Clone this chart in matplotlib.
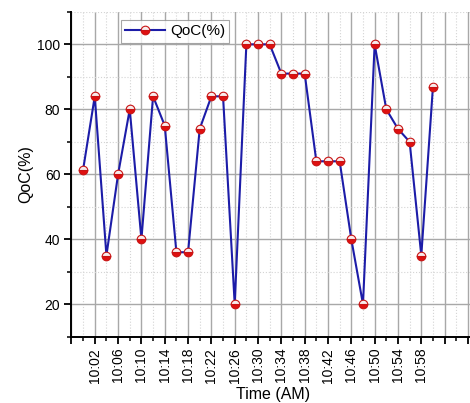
import matplotlib
matplotlib.use('Agg')
import matplotlib.pyplot as plt
from matplotlib.ticker import FixedLocator, MultipleLocator

plt.rcParams['font.family'] = ['Liberation Sans', 'DejaVu Sans']

# readings every 2 minutes, 10:00 .. 11:00
times = ['10:00', '10:02', '10:04', '10:06', '10:08', '10:10', '10:12', '10:14',
         '10:16', '10:18', '10:20', '10:22', '10:24', '10:26', '10:28', '10:30',
         '10:32', '10:34', '10:36', '10:38', '10:40', '10:42', '10:44', '10:46',
         '10:48', '10:50', '10:52', '10:54', '10:56', '10:58', '11:00']
qoc = [61.4, 84, 35, 60, 80, 40, 84, 75, 36, 36, 74, 84, 84, 20, 100, 100,
       100, 91, 91, 91, 64, 64, 64, 40, 20, 100, 80, 74, 70, 35, 87]

x = list(range(len(times)))

fig = plt.figure(figsize=(4.70, 4.03), dpi=100)
ax = fig.add_axes([0.152, 0.1645, 0.8585, 0.806])

ax.plot(x, qoc, color='#1c1ca8', lw=1.5, marker='o', ms=6.2,
        fillstyle='bottom', markerfacecolor='#e01010',
        markerfacecoloralt='#f8ecec', markeredgecolor='#c81414',
        markeredgewidth=0.8, label='QoC(%)', zorder=3)

ax.set_xlim(-1, 33.6)
ax.set_ylim(10, 110)

# x ticks: labels every 4 minutes, unlabeled ticks beyond the data
major_pos = list(range(-1, 34, 2))
major_lab = [times[p] if 0 <= p < len(times) else '' for p in major_pos]
ax.xaxis.set_major_locator(FixedLocator(major_pos))
ax.set_xticklabels(major_lab, rotation=90)
ax.xaxis.set_minor_locator(FixedLocator(list(range(0, 34, 2))))

ax.yaxis.set_minor_locator(MultipleLocator(10))
ax.set_yticks([20, 40, 60, 80, 100])

ax.tick_params(axis='both', which='major', direction='out', length=5, width=1.3,
               labelsize=10, colors='black', pad=3)
ax.tick_params(axis='both', which='minor', direction='out', length=3, width=1.1)

ax.grid(which='major', color='#a8a8a8', lw=1.0, ls='-')
ax.grid(which='minor', color='#d4d4d4', lw=0.8, ls=':')
ax.set_axisbelow(True)

for side in ['top', 'right']:
    ax.spines[side].set_visible(False)
for side in ['left', 'bottom']:
    ax.spines[side].set_linewidth(1.4)

ax.set_xlabel('Time (AM)', fontsize=11.5, labelpad=3)
ax.set_ylabel('QoC(%)', fontsize=11.5, labelpad=3)

leg = ax.legend(loc='upper left', bbox_to_anchor=(0.115, 0.985), fontsize=11,
                frameon=True, fancybox=False, handlelength=2.6,
                borderpad=0.3, handletextpad=0.3, borderaxespad=0.2)
leg.get_frame().set_edgecolor('#909090')
leg.get_frame().set_linewidth(0.8)

fig.savefig('out.png', dpi=100)
